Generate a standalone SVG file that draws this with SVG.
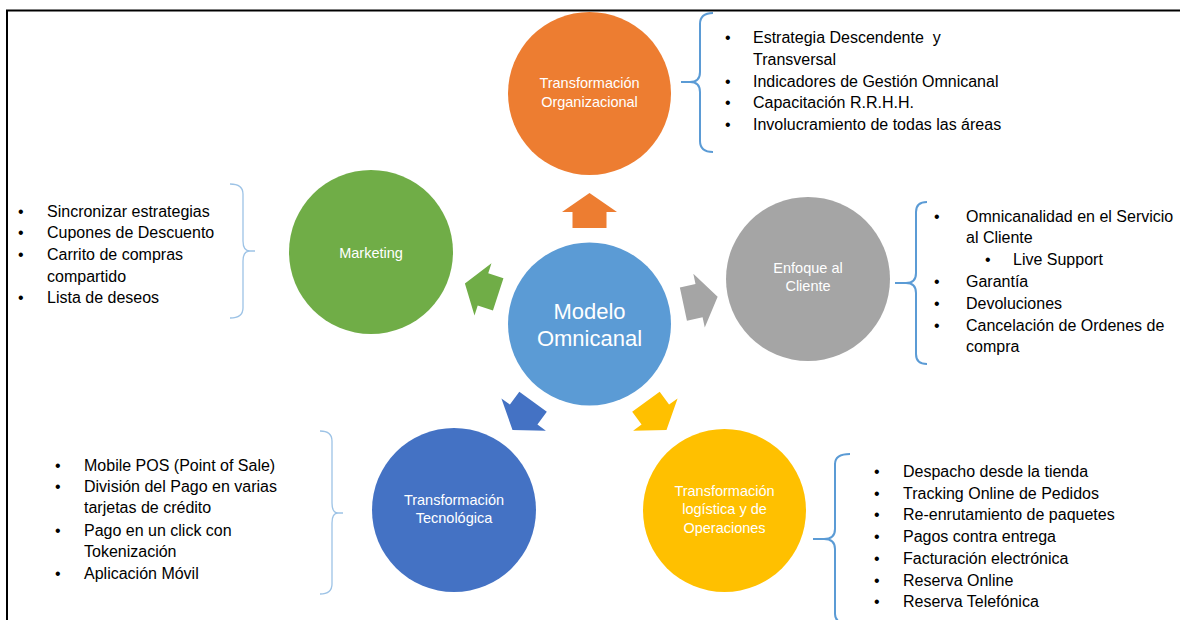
<svg xmlns="http://www.w3.org/2000/svg" width="1180" height="620" viewBox="0 0 1180 620">
<style>
.ct{font-family:"Liberation Sans",Arial,sans-serif;font-size:14.5px;fill:#fff;text-anchor:middle}
.lt{font-family:"Liberation Sans",Arial,sans-serif;font-size:16px;fill:#000;white-space:pre}
.br{fill:none;stroke:#5B9BD5;stroke-width:2}
.brl{fill:none;stroke:#9DC3E6;stroke-width:1.3}
</style>
<defs>
<path id="arr" d="M0,-131 L27.5,-112 L17,-112 L17,-96 L-17,-96 L-17,-112 L-27.5,-112 Z"/>
</defs>
<rect width="1180" height="620" fill="#fff"/>
<path d="M7,620 L7,10.5 L1180,10.5" fill="none" stroke="#000" stroke-width="2"/>

<g id="connectors">
<use href="#arr" transform="translate(589.5,324)" fill="#ED7D31"/>
<use href="#arr" transform="translate(589.5,324) rotate(78)" fill="#A5A5A5"/>
<use href="#arr" transform="translate(589.5,324) rotate(144)" fill="#FFC000"/>
<use href="#arr" transform="translate(589.5,324) rotate(216)" fill="#4472C4"/>
<use href="#arr" transform="translate(589.5,324) rotate(288)" fill="#70AD47"/>
<path class="br" d="M713,13 Q700,13 700,24 L700,72 Q700,82 690,82 L681,82 M690,82 Q700,82 700,92 L700,141 Q700,152 713,152"/>
<path class="br" d="M927,202 Q916,202 916,212 L916,273 Q916,283 906,283 L895,283 M906,283 Q916,283 916,293 L916,354 Q916,364 927,364"/>
<path class="br" d="M850,454 Q835,454 835,464 L835,529 Q835,539 824,539 L813,539 M824,539 Q835,539 835,549 L835,614 Q835,624 850,624"/>
<path class="brl" d="M230,184 Q243,184 243,194 L243,241 Q243,251 250,251 L255,251 M250,251 Q243,251 243,261 L243,308 Q243,318 230,318"/>
<path class="brl" d="M320,431 Q332,431 332,441 L332,503 Q332,513 338,513 L343,513 M338,513 Q332,513 332,523 L332,584 Q332,594 320,594"/>
</g>

<g id="center">
<circle cx="589.5" cy="324" r="81.5" fill="#5B9BD5"/>
<text class="ct" x="589.5" y="319" style="font-size:22px">Modelo</text>
<text class="ct" x="589.5" y="346" style="font-size:22px">Omnicanal</text>
</g>

<g id="organizacional">
<circle cx="589.5" cy="93.5" r="81.5" fill="#ED7D31"/>
<text class="ct" x="589.5" y="88">Transformación</text>
<text class="ct" x="589.5" y="107">Organizacional</text>
<g class="lt">
<text x="725" y="43">•</text><text x="753" y="43" xml:space="preserve">Estrategia Descendente  y</text>
<text x="753" y="65">Transversal</text>
<text x="725" y="87">•</text><text x="753" y="87">Indicadores de Gestión Omnicanal</text>
<text x="725" y="108">•</text><text x="753" y="108">Capacitación R.R.H.H.</text>
<text x="725" y="130">•</text><text x="753" y="130">Involucramiento de todas las áreas</text>
</g>
</g>

<g id="marketing">
<circle cx="371" cy="252" r="82" fill="#70AD47"/>
<text class="ct" x="371" y="258">Marketing</text>
<g class="lt">
<text x="18" y="217">•</text><text x="47" y="217">Sincronizar estrategias</text>
<text x="18" y="238">•</text><text x="47" y="238">Cupones de Descuento</text>
<text x="18" y="260">•</text><text x="47" y="260">Carrito de compras</text>
<text x="47" y="282">compartido</text>
<text x="18" y="303">•</text><text x="47" y="303">Lista de deseos</text>
</g>
</g>

<g id="cliente">
<circle cx="808" cy="279" r="82" fill="#A5A5A5"/>
<text class="ct" x="808" y="273">Enfoque al</text>
<text class="ct" x="808" y="291">Cliente</text>
<g class="lt">
<text x="934" y="222">•</text><text x="966" y="222">Omnicanalidad en el Servicio</text>
<text x="966" y="243">al Cliente</text>
<text x="985" y="265">•</text><text x="1013" y="265">Live Support</text>
<text x="934" y="287">•</text><text x="966" y="287">Garantía</text>
<text x="934" y="309">•</text><text x="966" y="309">Devoluciones</text>
<text x="934" y="331">•</text><text x="966" y="331">Cancelación de Ordenes de</text>
<text x="966" y="352">compra</text>
</g>
</g>

<g id="tecnologica">
<circle cx="454" cy="510" r="82" fill="#4472C4"/>
<text class="ct" x="454" y="505">Transformación</text>
<text class="ct" x="454" y="523">Tecnológica</text>
<g class="lt">
<text x="55" y="471">•</text><text x="84" y="471">Mobile POS (Point of Sale)</text>
<text x="55" y="492">•</text><text x="84" y="492">División del Pago en varias</text>
<text x="84" y="513">tarjetas de crédito</text>
<text x="55" y="536">•</text><text x="84" y="536">Pago en un click con</text>
<text x="84" y="557">Tokenización</text>
<text x="55" y="579">•</text><text x="84" y="579">Aplicación Móvil</text>
</g>
</g>

<g id="logistica">
<circle cx="724.5" cy="510.5" r="81.5" fill="#FFC000"/>
<text class="ct" x="724.5" y="496">Transformación</text>
<text class="ct" x="724.5" y="514">logística y de</text>
<text class="ct" x="724.5" y="533">Operaciones</text>
<g class="lt">
<text x="874" y="477">•</text><text x="903" y="477">Despacho desde la tienda</text>
<text x="874" y="499">•</text><text x="903" y="499">Tracking Online de Pedidos</text>
<text x="874" y="520">•</text><text x="903" y="520">Re-enrutamiento de paquetes</text>
<text x="874" y="542">•</text><text x="903" y="542">Pagos contra entrega</text>
<text x="874" y="564">•</text><text x="903" y="564">Facturación electrónica</text>
<text x="874" y="586">•</text><text x="903" y="586">Reserva Online</text>
<text x="874" y="607">•</text><text x="903" y="607">Reserva Telefónica</text>
</g>
</g>
</svg>
